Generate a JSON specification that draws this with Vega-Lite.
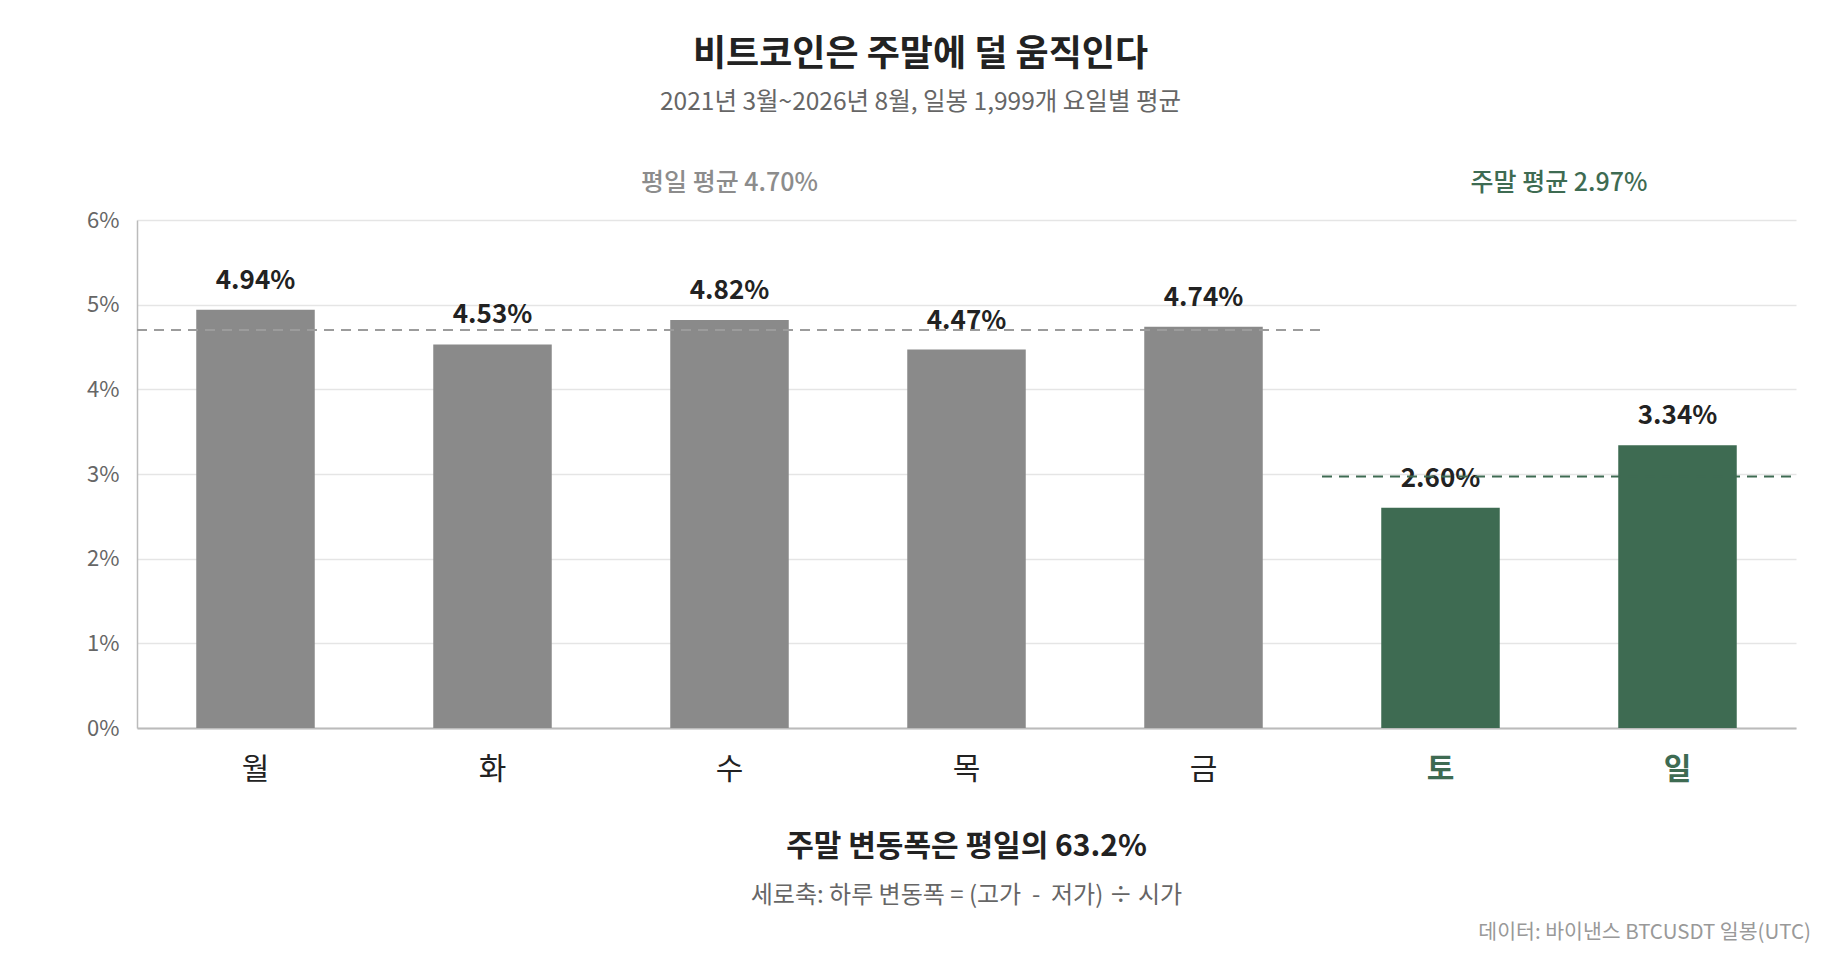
{
  "$schema": "https://vega.github.io/schema/vega-lite/v6.json",
  "width": 1659,
  "height": 508,
  "autosize": {"type": "none"},
  "padding": {"left": 137, "top": 220, "right": 44, "bottom": 232},
  "background": "white",
  "title": {
    "text": "비트코인은 주말에 덜 움직인다",
    "subtitle": "2021년 3월~2026년 8월, 일봉 1,999개 요일별 평균",
    "anchor": "middle",
    "dx": -46,
    "offset": 56,
    "fontSize": 36,
    "fontWeight": "bold",
    "color": "#222222",
    "subtitleFontSize": 24.5,
    "subtitleColor": "#666666",
    "subtitlePadding": 17
  },
  "config": {
    "font": "Noto Sans CJK KR",
    "view": {"stroke": null},
    "axis": {"labelFont": "Noto Sans CJK KR", "titleFont": "Noto Sans CJK KR"}
  },
  "datasets": {
    "days": [
      {"day": "월", "vol": 0.0494, "type": "평일"},
      {"day": "화", "vol": 0.0453, "type": "평일"},
      {"day": "수", "vol": 0.0482, "type": "평일"},
      {"day": "목", "vol": 0.0447, "type": "평일"},
      {"day": "금", "vol": 0.0474, "type": "평일"},
      {"day": "토", "vol": 0.0260, "type": "주말"},
      {"day": "일", "vol": 0.0334, "type": "주말"}
    ],
    "avgs": [
      {"type": "평일", "start": "월", "end": "금", "avg": 0.0470, "label": "평일 평균 4.70%"},
      {"type": "주말", "start": "토", "end": "일", "avg": 0.0297, "label": "주말 평균 2.97%"}
    ],
    "notes": [
      {"text": "주말 변동폭은 평일의 63.2%", "kind": "headline"},
      {"text": "세로축: 하루 변동폭 = (고가\u00a0 -\u00a0 저가) ÷ 시가", "kind": "formula"},
      {"text": "데이터: 바이낸스 BTCUSDT 일봉(UTC)", "kind": "source"}
    ]
  },
  "layer": [
    {
      "data": {"name": "days"},
      "mark": {"type": "bar"},
      "encoding": {
        "x": {
          "field": "day",
          "type": "nominal",
          "title": null,
          "scale": {
            "domain": ["월", "화", "수", "목", "금", "토", "일"],
            "paddingInner": 0.5,
            "paddingOuter": 0.25
          },
          "axis": {
            "labelAngle": 0,
            "labelFontSize": 30,
            "labelPadding": 26,
            "labelColor": {
              "condition": {"test": "datum.value == '토' || datum.value == '일'", "value": "#3e6b52"},
              "value": "#222222"
            },
            "labelFontWeight": {
              "condition": {"test": "datum.value == '토' || datum.value == '일'", "value": "bold"},
              "value": "normal"
            },
            "ticks": false,
            "domainColor": "#bbbbbb",
            "domainWidth": 2,
            "grid": false
          }
        },
        "y": {
          "field": "vol",
          "type": "quantitative",
          "title": null,
          "scale": {"domain": [0, 0.06], "nice": false},
          "axis": {
            "values": [0, 0.01, 0.02, 0.03, 0.04, 0.05, 0.06],
            "format": ".0%",
            "labelFontSize": 22,
            "labelColor": "#666666",
            "labelPadding": 18,
            "ticks": false,
            "domainColor": "#bbbbbb",
            "domainWidth": 1.5,
            "gridColor": "#e5e5e5",
            "gridWidth": 1.5
          }
        },
        "color": {
          "field": "type",
          "type": "nominal",
          "scale": {"domain": ["평일", "주말"], "range": ["#8a8a8a", "#3e6b52"]},
          "legend": null
        }
      }
    },
    {
      "data": {"name": "days"},
      "mark": {"type": "text", "baseline": "alphabetic", "dy": -21, "fontSize": 26, "fontWeight": "bold", "color": "#222222"},
      "encoding": {
        "x": {"field": "day", "type": "nominal", "title": null},
        "y": {"field": "vol", "type": "quantitative", "title": null},
        "text": {"field": "vol", "format": ".2%"}
      }
    },
    {
      "data": {"name": "avgs"},
      "mark": {"type": "rule", "strokeDash": [10, 7], "strokeWidth": 2},
      "encoding": {
        "x": {"field": "start", "type": "nominal", "bandPosition": -0.5, "title": null},
        "x2": {"field": "end", "bandPosition": 1.5},
        "y": {"field": "avg", "type": "quantitative", "title": null},
        "color": {
          "condition": {"test": "datum.type == '주말'", "value": "#3e6b52"},
          "value": "#9c9c9c"
        }
      }
    },
    {
      "data": {"name": "avgs"},
      "transform": [{"filter": "datum.type == '평일'"}],
      "mark": {"type": "text", "baseline": "alphabetic", "dy": -29, "fontSize": 25, "fontWeight": 500, "color": "#8c8c8c"},
      "encoding": {
        "x": {"datum": "수", "type": "nominal"},
        "y": {"datum": 0.06, "type": "quantitative"},
        "text": {"field": "label"}
      }
    },
    {
      "data": {"name": "avgs"},
      "transform": [{"filter": "datum.type == '주말'"}],
      "mark": {"type": "text", "baseline": "alphabetic", "dy": -29, "fontSize": 25, "fontWeight": 500, "color": "#3e6b52"},
      "encoding": {
        "x": {"datum": "토", "type": "nominal", "bandPosition": 1.5},
        "y": {"datum": 0.06, "type": "quantitative"},
        "text": {"field": "label"}
      }
    },
    {
      "data": {"name": "notes"},
      "transform": [{"filter": "datum.kind == 'headline'"}],
      "mark": {"type": "text", "baseline": "alphabetic", "dy": 128, "fontSize": 30, "fontWeight": "bold", "color": "#222222"},
      "encoding": {
        "x": {"datum": "목", "type": "nominal"},
        "y": {"datum": 0, "type": "quantitative"},
        "text": {"field": "text"}
      }
    },
    {
      "data": {"name": "notes"},
      "transform": [{"filter": "datum.kind == 'formula'"}],
      "mark": {"type": "text", "baseline": "alphabetic", "dy": 175, "fontSize": 24, "color": "#666666"},
      "encoding": {
        "x": {"datum": "목", "type": "nominal"},
        "y": {"datum": 0, "type": "quantitative"},
        "text": {"field": "text"}
      }
    },
    {
      "data": {"name": "notes"},
      "transform": [{"filter": "datum.kind == 'source'"}],
      "mark": {"type": "text", "baseline": "alphabetic", "align": "right", "dx": 15, "dy": 211, "fontSize": 20.5, "color": "#999999"},
      "encoding": {
        "x": {"datum": "일", "type": "nominal", "bandPosition": 1.5},
        "y": {"datum": 0, "type": "quantitative"},
        "text": {"field": "text"}
      }
    }
  ]
}
